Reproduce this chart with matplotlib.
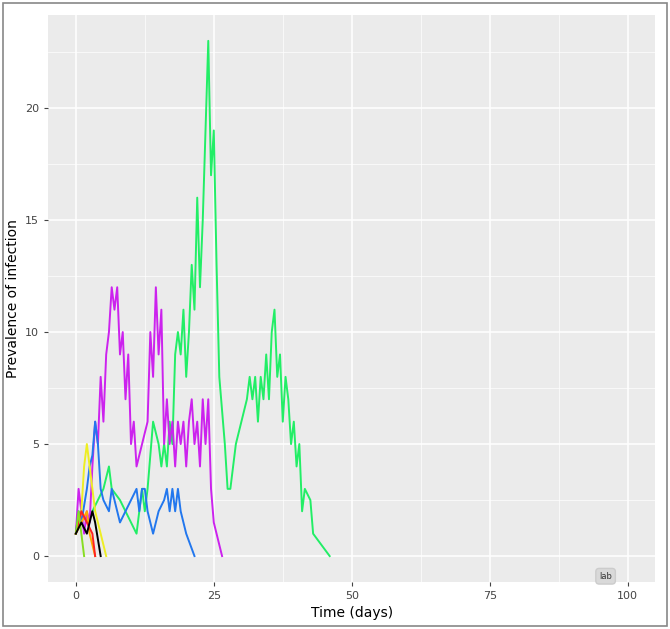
import matplotlib.pyplot as plt
from matplotlib.patches import Rectangle

# series: (time list, prevalence list)
green_t = [0,1,2,3,4,5,6,6.5,8,10,11,12,12.5,13,14,15,15.5,16,16.5,17,17.5,18,18.5,19,19.5,20,20.5,21,21.5,22,22.5,23,23.5,24,24.5,25,25.5,26,27,27.5,28,29,30,31,31.5,32,32.5,33,33.5,34,34.5,35,35.5,36,36.5,37,37.5,38,38.5,39,39.5,40,40.5,41,41.5,42.5,43,46]
green_y = [1,2,1.5,2,2.5,3,4,3,2.5,1.5,1,3,2,3,6,5,4,5,4,6,5,9,10,9,11,8,10,13,11,16,12,15,19,23,17,19,13,8,5,3,3,5,6,7,8,7,8,6,8,7,9,7,10,11,8,9,6,8,7,5,6,4,5,2,3,2.5,1,0]
magenta_t = [0,0.5,1,1.5,2,2.5,3,3.5,4,4.5,5,5.5,6,6.5,7,7.5,8,8.5,9,9.5,10,10.5,11,12,13,13.5,14,14.5,15,15.5,16,16.5,17,17.5,18,18.5,19,19.5,20,20.5,21,21.5,22,22.5,23,23.5,24,24.5,25,26.5]
magenta_y = [1,3,2,1,2,1.5,4,6,5,8,6,9,10,12,11,12,9,10,7,9,5,6,4,5,6,10,8,12,9,11,5,7,5,6,4,6,5,6,4,6,7,5,6,4,7,5,7,3,1.5,0]
blue_t = [0,0.5,1,2,2.5,3,3.5,4,4.5,5,6,6.5,7.5,8,9,10,11,11.5,12,12.5,13,14,15,16,16.5,17,17.5,18,18.5,19,20,21.5]
blue_y = [1,2,1.5,3,4,4.5,6,5,3,2.5,2,3,2,1.5,2,2.5,3,2,3,3,2,1,2,2.5,3,2,3,2,3,2,1,0]
yellow_t = [0,1,1.5,2,2.5,3,3.5,4,4.5,5.5]
yellow_y = [1,2,4,5,4,3,2,1.5,1,0]
red_t = [0,1,2,3,3.5]
red_y = [1,2,1.5,1,0]
black_t = [0,1,2,3,3.5,4.5]
black_y = [1,1.5,1,2,1.5,0]
lime_t = [0,0.5,1,1.5]
lime_y = [1,2,1,0]
orange_t = [0,1,2,2.5,3.5]
orange_y = [1,1.5,2,1,0]

series = [
    (green_t, green_y, "#22ee66"),
    (magenta_t, magenta_y, "#cc22ee"),
    (blue_t, blue_y, "#2277ee"),
    (yellow_t, yellow_y, "#eeee22"),
    (orange_t, orange_y, "#ffaa00"),
    (red_t, red_y, "#ff2222"),
    (lime_t, lime_y, "#88dd22"),
    (black_t, black_y, "#000000"),
]

fig = plt.figure(figsize=(6.7, 6.29), dpi=100)
fig.patches.append(Rectangle((0.005, 0.005), 0.99, 0.99, transform=fig.transFigure,
                             fill=False, edgecolor="#888888", lw=1.2))
ax = fig.add_axes([0.072, 0.075, 0.906, 0.901])
ax.set_facecolor("#ebebeb")
for s in ax.spines.values():
    s.set_visible(False)

for t, y, c in series:
    ax.plot(t, y, color=c, lw=1.4)

ax.set_xlim(-5, 105)
ax.set_ylim(-1.15, 24.15)
ax.set_xticks([0, 25, 50, 75, 100])
ax.set_yticks([0, 5, 10, 15, 20])
ax.set_xticks([12.5, 37.5, 62.5, 87.5], minor=True)
ax.set_yticks([2.5, 7.5, 12.5, 17.5, 22.5], minor=True)
ax.grid(True, which="major", color="white", lw=1.1)
ax.grid(True, which="minor", color="white", lw=0.5)
ax.set_axisbelow(True)
ax.tick_params(which="both", length=3, color="#444444", labelsize=8, labelcolor="#444444")
ax.tick_params(which="minor", length=0)
ax.set_xlabel("Time (days)", fontsize=10)
ax.set_ylabel("Prevalence of infection", fontsize=10)
ax.text(96, -0.9, "lab", fontsize=6, color="#333333", ha="center", va="center",
        bbox=dict(boxstyle="round,pad=0.4", fc="#d9d9d9", ec="#cccccc"))

fig.savefig("out.png")
